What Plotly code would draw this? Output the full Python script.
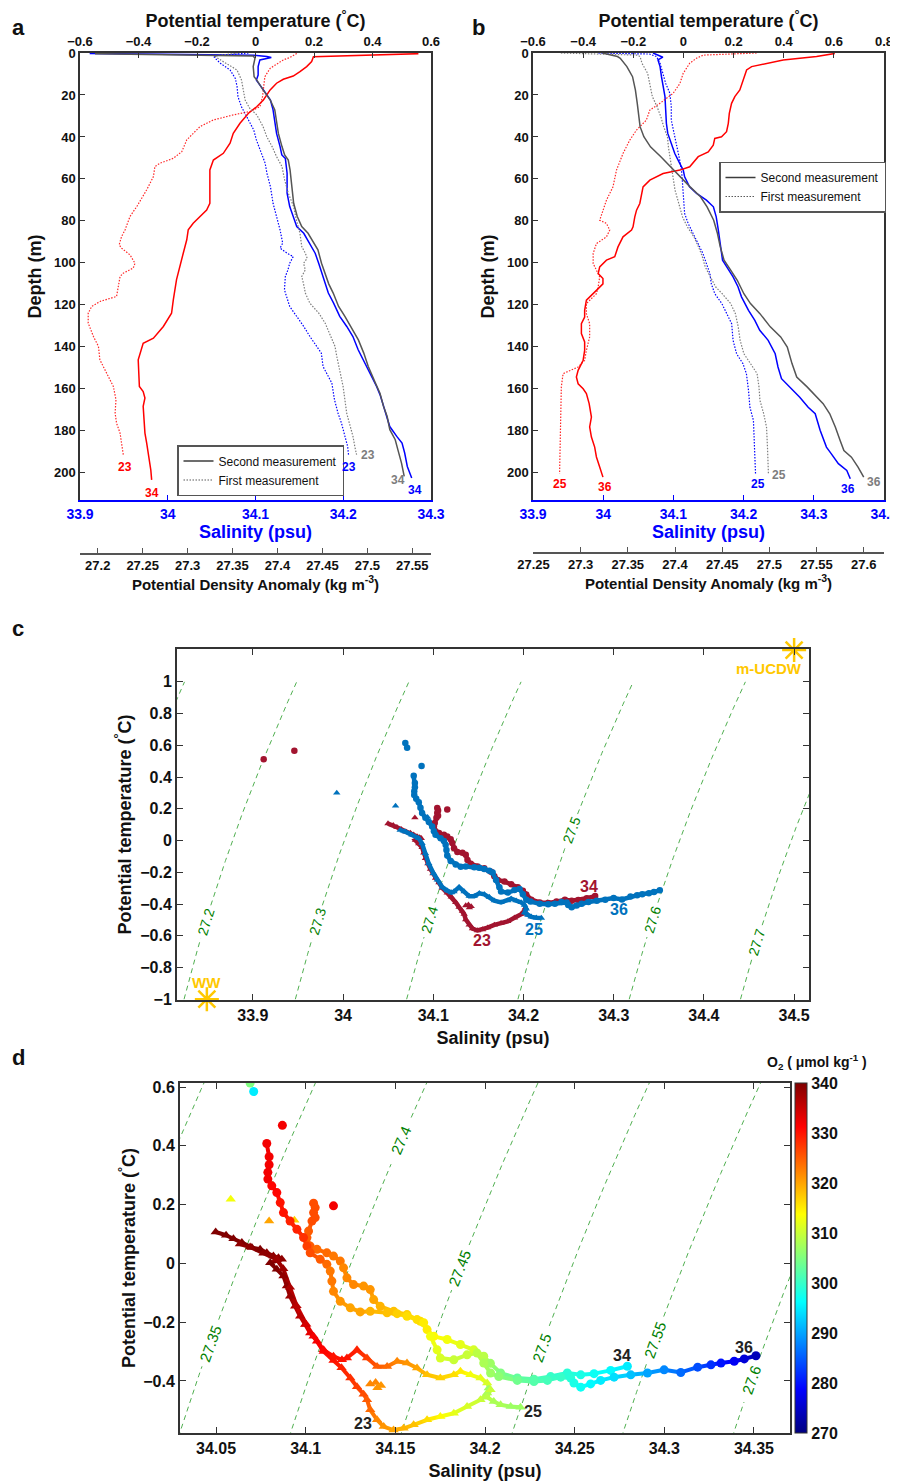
import numpy as np
import plotly.graph_objects as go
from plotly.colors import sample_colorscale

W, H = 898, 1481
OFF = 8  # the page body margin shifts the figure by this many pixels
FONT = "Liberation Sans, Arial, Helvetica, sans-serif"

# ===================== DATA =====================
# ---- Panel a: stations 23 (first) and 34 (second) ----
a_temp23_z = [0.2, 2.1, 3.3, 7.3, 11.3, 16, 20.8, 25.6, 27.9, 29.5, 31.9, 35.1, 38.3, 41.4, 47, 50.2, 52.5, 54.1, 58.9, 65.2,
              73.2, 77.9, 84.3, 87.5, 91.4, 93, 96.2, 100.2, 102.5, 104.9, 106.5, 112, 116, 118.4, 120.8, 124, 128.7, 135.1,
              139.8, 146.2, 152.5, 158.9, 165.2, 171.6, 176.4, 181.1, 185.9, 191.4]
a_temp23 = [0.141, 0.118, 0.095, 0.05, 0.032, 0.027, 0.024, 0.015, -0.019, -0.076, -0.144, -0.19, -0.213, -0.235, -0.252,
            -0.281, -0.326, -0.344, -0.349, -0.372, -0.406, -0.429, -0.446, -0.458, -0.466, -0.458, -0.429, -0.412, -0.418,
            -0.452, -0.463, -0.469, -0.475, -0.532, -0.56, -0.572, -0.572, -0.554, -0.537, -0.532, -0.509, -0.486, -0.477,
            -0.48, -0.475, -0.463, -0.458, -0.452]
a_temp34_z = [0.3, 1.8, 4.1, 6.5, 8.9, 11, 12.5, 14.4, 17.6, 22.4, 25.6, 28.7, 33.5, 38.3, 43, 47.8, 51, 55.7, 60.5, 66.8,
              71.6, 74.8, 77.9, 81.1, 84.3, 89, 95.4, 101.7, 108, 117.6, 124, 130.3, 135.9, 138.3, 143, 146.2, 158.9, 161.3,
              164.4, 168.4, 174.8, 181.1, 185.9, 192.2, 198.6, 203.4]
a_temp34 = [0.557, 0.198, 0.192, 0.175, 0.152, 0.129, 0.095, 0.072, 0.05, 0.027, 0.004, -0.024, -0.053, -0.076, -0.087,
            -0.11, -0.144, -0.156, -0.156, -0.156, -0.156, -0.167, -0.19, -0.213, -0.23, -0.235, -0.247, -0.258, -0.27,
            -0.281, -0.287, -0.315, -0.349, -0.384, -0.395, -0.401, -0.397, -0.384, -0.378, -0.384, -0.381, -0.378,
            -0.372, -0.364, -0.358, -0.355]
a_sal23_z = [0, 1.4, 2.5, 4.9, 8.1, 12.1, 16, 20.8, 25.6, 28.7, 31.9, 36.7, 41.4, 46.2, 52.5, 57.3, 63.7, 71.6, 77.9, 84.3,
             90.6, 93, 95.4, 97, 100.2, 103.3, 106.5, 112.9, 120.8, 125.5, 130.3, 135.1, 139.8, 143, 149.4, 154.1, 157.3,
             165.2, 171.6, 176.4, 182.7, 187.5, 191.4]
a_sal23 = [34.092, 34.052, 34.054, 34.06, 34.071, 34.077, 34.079, 34.08, 34.084, 34.088, 34.092, 34.098, 34.101, 34.105,
           34.111, 34.113, 34.117, 34.12, 34.124, 34.128, 34.131, 34.128, 34.136, 34.143, 34.139, 34.137, 34.134, 34.133,
           34.139, 34.147, 34.155, 34.162, 34.17, 34.175, 34.177, 34.183, 34.187, 34.19, 34.194, 34.198, 34.202, 34.205,
           34.206]
a_sal34_z = [0.2, 1.1, 1.7, 2.1, 3.3, 6.5, 10.5, 12.9, 17.6, 22.4, 27.1, 31.9, 38.3, 44.6, 48.6, 50.2, 57.3, 66.8, 73.2,
             77.9, 82.7, 85.9, 89.8, 92.2, 95.4, 100.2, 104.1, 109.7, 114.4, 119.2, 125.5, 130.3, 135.1, 141.4, 146.2,
             152.5, 158.9, 162.9, 171.6, 178, 182.7, 185.9, 190.6, 197, 202.5]
a_sal34 = [33.911, 34.098, 34.113, 34.118, 34.105, 34.103, 34.103, 34.101, 34.109, 34.117, 34.12, 34.122, 34.124, 34.128,
           34.13, 34.134, 34.136, 34.136, 34.139, 34.143, 34.147, 34.155, 34.16, 34.164, 34.168, 34.172, 34.175, 34.179,
           34.183, 34.189, 34.196, 34.204, 34.211, 34.217, 34.223, 34.23, 34.238, 34.242, 34.248, 34.253, 34.261, 34.267,
           34.27, 34.273, 34.278]
a_sig23_z = [0, 1.4, 2.1, 4.9, 8.1, 12.9, 17.6, 22.4, 26.3, 29.5, 35.1, 39.8, 44.6, 49.4, 54.1, 60.5, 66.8, 73.2, 79.5,
             85.9, 92.2, 95.4, 97.8, 100.2, 103.3, 106.5, 110, 114.4, 119.2, 124, 128.7, 133.5, 139.8, 144.6, 152.5, 158.9,
             165.2, 171.6, 178, 182.7, 187.5, 191.4]
a_sig23 = [27.356, 27.33, 27.332, 27.343, 27.355, 27.36, 27.362, 27.364, 27.369, 27.377, 27.384, 27.388, 27.394, 27.399,
           27.405, 27.408, 27.412, 27.418, 27.421, 27.425, 27.427, 27.431, 27.433, 27.429, 27.431, 27.427, 27.429, 27.431,
           27.436, 27.446, 27.453, 27.458, 27.464, 27.466, 27.47, 27.473, 27.475, 27.477, 27.481, 27.484, 27.486, 27.488]
a_sig34_z = [0.3, 1.4, 2.5, 6.5, 11.3, 12.9, 17.6, 22.4, 27.1, 31.9, 38.3, 44.6, 48.6, 51, 55.7, 63.7, 71.6, 77.9, 82.7,
             85.9, 90.6, 93.8, 100.2, 104.9, 110, 114.4, 120.8, 125.5, 131.9, 136.7, 143, 149.4, 157.3, 162.1, 168.4,
             173.2, 179.5, 184.3, 189.1, 195.4, 201.7]
a_sig34 = [27.197, 27.373, 27.375, 27.373, 27.374, 27.377, 27.384, 27.392, 27.397, 27.399, 27.401, 27.405, 27.408, 27.412,
           27.414, 27.416, 27.418, 27.422, 27.427, 27.434, 27.44, 27.445, 27.449, 27.453, 27.457, 27.462, 27.468, 27.475,
           27.484, 27.49, 27.496, 27.501, 27.509, 27.514, 27.518, 27.522, 27.525, 27.531, 27.534, 27.538, 27.541]

# ---- Panel b: stations 25 (first) and 36 (second) ----
b_temp25_z = [0, 1, 2.5, 4.9, 7.3, 9.7, 14.5, 19.2, 24, 27.2, 32, 36.7, 41.5, 47.9, 55.8, 63.8, 70.1, 76.5, 79.7, 81.2,
              84.4, 87.6, 90.8, 95.5, 100.3, 103.5, 106.7, 111.4, 114.7, 119.4, 124.2, 129, 135.3, 141.7, 146.4, 149.6,
              151.2, 152.8, 159.1, 171.9, 184.6, 200.5]
b_temp25 = [0.292, 0.079, 0.052, 0.025, 0.012, -0.001, -0.014, -0.041, -0.094, -0.134, -0.148, -0.187, -0.214, -0.241,
            -0.267, -0.281, -0.307, -0.327, -0.334, -0.307, -0.294, -0.307, -0.347, -0.36, -0.36, -0.347, -0.334, -0.34,
            -0.347, -0.387, -0.387, -0.374, -0.374, -0.387, -0.394, -0.42, -0.454, -0.48, -0.487, -0.49, -0.491, -0.494]
b_temp36_z = [0.2, 1.7, 3.3, 4.9, 6.5, 8.1, 12.9, 17.6, 20.8, 24, 28.8, 33.5, 37.5, 39.9, 40.7, 43.9, 47.1, 49.4, 54.2,
              55.8, 57.4, 60.6, 63.8, 68.5, 71.7, 74.9, 78.1, 82.8, 84.4, 87.6, 92.4, 97.1, 98.7, 101.9, 105.1, 107.5, 110,
              113.1, 117.8, 122.6, 125.8, 129, 133.7, 137.7, 141.7, 146.4, 151.2, 154.4, 157.6, 160, 162.3, 167.1, 173.5,
              178.2, 183, 187.8, 192.5, 197.3, 202.1]
b_temp36 = [0.604, 0.531, 0.398, 0.332, 0.272, 0.252, 0.238, 0.225, 0.205, 0.192, 0.183, 0.179, 0.172, 0.152, 0.125,
            0.119, 0.099, 0.059, 0.025, -0.014, -0.081, -0.134, -0.161, -0.168, -0.174, -0.187, -0.194, -0.201, -0.207,
            -0.241, -0.261, -0.274, -0.307, -0.334, -0.34, -0.321, -0.321, -0.347, -0.387, -0.394, -0.394, -0.407, -0.407,
            -0.394, -0.394, -0.4, -0.42, -0.427, -0.42, -0.4, -0.387, -0.376, -0.367, -0.374, -0.367, -0.354, -0.347,
            -0.334, -0.321]
b_sal25_z = [0, 0.5, 1.7, 4.9, 9.7, 14.5, 19.2, 25.6, 32, 36.7, 41.5, 46.3, 51, 57.4, 66.9, 76.5, 81.2, 86, 90.8, 95.5,
             100.3, 105.1, 110, 114.7, 119.4, 124.2, 129, 136.9, 143.3, 148, 152.8, 160.8, 168.8, 175.1, 181.5, 191, 200.5]
b_sal25 = [33.993, 34.066, 34.076, 34.081, 34.085, 34.089, 34.095, 34.097, 34.097, 34.1, 34.104, 34.107, 34.109, 34.112,
           34.114, 34.116, 34.121, 34.128, 34.135, 34.142, 34.147, 34.152, 34.154, 34.159, 34.169, 34.176, 34.183, 34.185,
           34.19, 34.199, 34.204, 34.207, 34.209, 34.214, 34.215, 34.216, 34.217]
b_sal36_z = [0, 2, 3.3, 6.5, 11.3, 16.1, 20.8, 27.2, 33.5, 38.3, 43.1, 47.9, 52.6, 55.8, 59, 63.8, 66.9, 70.1, 73.3, 78.1,
             84.4, 90.8, 98.7, 101.9, 106.7, 111.4, 116.2, 122.6, 127.4, 132.1, 136.9, 143.3, 149.6, 155.2, 159.1, 164,
             168.8, 171.9, 179.8, 187.8, 191, 195.7, 198.9, 202.9]
b_sal36 = [34.071, 34.085, 34.078, 34.081, 34.083, 34.085, 34.088, 34.089, 34.09, 34.092, 34.097, 34.102, 34.109, 34.114,
           34.116, 34.123, 34.133, 34.147, 34.157, 34.161, 34.164, 34.167, 34.17, 34.176, 34.185, 34.192, 34.197, 34.207,
           34.216, 34.223, 34.235, 34.245, 34.249, 34.254, 34.266, 34.28, 34.292, 34.302, 34.309, 34.318, 34.325, 34.335,
           34.347, 34.352]
b_sig25_z = [0, 1, 1.7, 4.9, 9.7, 16.1, 20.8, 25.6, 30.4, 35.1, 39.9, 44.7, 51, 57.4, 65.3, 71.7, 78.1, 82.8, 87.6, 92.4,
             97.1, 101.9, 106.7, 111.4, 114.7, 119.4, 124.2, 130.5, 136.9, 143.3, 148, 152.8, 159.1, 165.5, 171.9, 178.3,
             187.8, 200.5]
b_sig25 = [27.279, 27.36, 27.363, 27.365, 27.371, 27.374, 27.376, 27.381, 27.385, 27.388, 27.392, 27.393, 27.395, 27.397,
           27.4, 27.404, 27.408, 27.413, 27.42, 27.425, 27.429, 27.432, 27.438, 27.443, 27.45, 27.459, 27.464, 27.467,
           27.469, 27.473, 27.48, 27.487, 27.489, 27.49, 27.494, 27.497, 27.498, 27.499]
b_sig36_z = [0, 1.7, 2.5, 6.5, 11.3, 17.6, 24, 30.4, 35.1, 39.9, 44.7, 49.4, 54.2, 59, 63.8, 68.5, 73.3, 79.7, 86, 92.4,
             98.7, 103.5, 108.3, 114.7, 119.4, 124.2, 130.5, 135.3, 140.1, 148, 154.4, 159.1, 164, 167.1, 171.9, 178.3,
             184.6, 189.4, 192.6, 197.3, 202.1]
b_sig36 = [27.323, 27.339, 27.342, 27.349, 27.355, 27.358, 27.36, 27.362, 27.363, 27.367, 27.374, 27.385, 27.395, 27.406,
           27.416, 27.427, 27.434, 27.441, 27.445, 27.448, 27.452, 27.459, 27.466, 27.473, 27.48, 27.49, 27.501, 27.512,
           27.519, 27.524, 27.529, 27.54, 27.55, 27.557, 27.564, 27.57, 27.575, 27.579, 27.587, 27.594, 27.6]

# ---- Panels c/d: theta-S paths (salinity, potential temperature, oxygen) ----
ts23_S = [34.0498, 34.0556, 34.0597, 34.0644, 34.0700, 34.0746, 34.0783, 34.0820, 34.0848, 34.0867, 34.0802, 34.0839,
          34.0876, 34.0895, 34.0913, 34.0941, 34.0969, 34.0997, 34.1025, 34.1063, 34.1100, 34.1155, 34.1200, 34.1249,
          34.1286, 34.1323, 34.1342, 34.1360, 34.1398, 34.1435, 34.1490, 34.1546, 34.1602, 34.1677, 34.1751, 34.1826,
          34.1900, 34.1975, 34.2012, 34.2021]
ts23_T = [0.107, 0.096, 0.084, 0.071, 0.054, 0.048, 0.036, 0.025, 0.019, 0.014, 0.002, -0.020, -0.043, -0.077, -0.112,
          -0.146, -0.180, -0.208, -0.237, -0.265, -0.300, -0.330, -0.355, -0.390, -0.420, -0.445, -0.464, -0.498, -0.532,
          -0.555, -0.567, -0.561, -0.549, -0.532, -0.521, -0.510, -0.487, -0.464, -0.441, -0.424]
ts23_O2 = [340, 340, 340, 340, 340, 340, 339, 339, 339, 339, 340, 340, 339, 339, 338, 337, 336, 335, 333, 332, 331, 330,
           329, 328, 327, 326, 325, 324, 322, 321, 320, 319, 318, 316, 314, 312, 311, 310, 308, 307]
ts23_iso_S = [34.0796, 34.1360, 34.1390, 34.1420, 34.1400]
ts23_iso_T = [0.144, -0.410, -0.405, -0.415, -0.423]
ts23_iso_O2 = [320, 322, 322, 321, 321]

ts25_S = [34.0633, 34.0690, 34.0764, 34.0838, 34.0875, 34.0912, 34.0949, 34.1003, 34.1044, 34.1100, 34.1155, 34.1202,
          34.1230, 34.1286, 34.1342, 34.1398, 34.1454, 34.1510, 34.1565, 34.1621, 34.1677, 34.1751, 34.1826, 34.1863,
          34.1919, 34.1975, 34.2012, 34.2031, 34.2012, 34.2049, 34.2087, 34.2143, 34.2198]
ts25_T = [0.066, 0.056, 0.035, 0.014, -0.018, -0.081, -0.144, -0.207, -0.248, -0.294, -0.316, -0.328, -0.322, -0.294,
          -0.322, -0.351, -0.351, -0.333, -0.339, -0.356, -0.379, -0.390, -0.379, -0.367, -0.379, -0.390, -0.407, -0.430,
          -0.455, -0.470, -0.481, -0.487, -0.489]
ts25_O2 = [339, 339, 339, 338, 338, 337, 336, 334, 332, 331, 330, 330, 330, 329, 327, 325, 324, 322, 321, 320, 318, 317,
           316, 315, 313, 312, 311, 310, 309, 308, 308, 307, 307]
ts25_iso_S = [33.993, 34.0582, 34.0937]
ts25_iso_T = [0.300, 0.218, 0.147]
ts25_iso_O2 = [310, 313, 317]

ts34_S = [34.1044, 34.1053, 34.1044, 34.1053, 34.1035, 34.1016, 34.1007, 34.1025, 34.1063, 34.1118, 34.1155, 34.1193,
          34.1211, 34.1230, 34.1267, 34.1323, 34.1360, 34.1379, 34.1416, 34.1491, 34.1565, 34.1640, 34.1677, 34.1714,
          34.1789, 34.1863, 34.1937, 34.1993, 34.2030, 34.2087, 34.2180, 34.2273, 34.2366, 34.2459, 34.2534, 34.2608,
          34.2701, 34.2794]
ts34_T = [0.205, 0.190, 0.173, 0.156, 0.144, 0.110, 0.088, 0.059, 0.048, 0.036, 0.025, 0.008, -0.015, -0.049, -0.072,
          -0.077, -0.089, -0.123, -0.146, -0.163, -0.174, -0.197, -0.225, -0.248, -0.259, -0.276, -0.294, -0.316, -0.340,
          -0.373, -0.390, -0.394, -0.385, -0.373, -0.379, -0.375, -0.364, -0.350]
ts34_O2 = [326, 326, 326, 326, 326, 325, 325, 325, 324, 324, 323, 323, 322, 322, 322, 321, 321, 320, 319, 318, 317, 316,
           315, 314, 313, 312, 311, 309, 307, 305, 303, 302, 300, 299, 298, 297, 296, 295]
ts34_iso_S = [33.912, 33.946, 34.1155]
ts34_iso_T = [0.512, 0.565, 0.196]
ts34_iso_O2 = [300, 300, 332]

ts36_S = [34.0783, 34.0796, 34.0796, 34.0789, 34.0789, 34.0811, 34.0839, 34.0858, 34.0876, 34.0913, 34.0951, 34.0988,
          34.1007, 34.1025, 34.1081, 34.1118, 34.1137, 34.1146, 34.1155, 34.1193, 34.1249, 34.1304, 34.1360, 34.1454,
          34.1510, 34.1565, 34.1621, 34.1658, 34.1696, 34.1733, 34.1751, 34.1826, 34.1900, 34.1956, 34.1993, 34.2031,
          34.2077, 34.2180, 34.2273, 34.2348, 34.2422, 34.2478, 34.2496, 34.2534, 34.2589, 34.2645, 34.2720, 34.2813,
          34.2906, 34.2999, 34.3092, 34.3186, 34.3260, 34.3316, 34.3390, 34.3446, 34.3511]
ts36_T = [0.408, 0.363, 0.336, 0.310, 0.287, 0.264, 0.241, 0.207, 0.173, 0.144, 0.116, 0.088, 0.059, 0.036, 0.014,
          -0.003, -0.026, -0.060, -0.095, -0.129, -0.151, -0.165, -0.163, -0.168, -0.171, -0.180, -0.191, -0.202, -0.248,
          -0.294, -0.322, -0.328, -0.311, -0.305, -0.339, -0.373, -0.385, -0.398, -0.402, -0.398, -0.387, -0.390, -0.407,
          -0.421, -0.410, -0.398, -0.387, -0.379, -0.373, -0.362, -0.371, -0.353, -0.345, -0.339, -0.333, -0.325, -0.314]
ts36_O2 = [332, 332, 332, 332, 332, 331, 331, 330, 330, 329, 329, 328, 327, 326, 325, 324, 323, 323, 322, 321, 320, 320,
           319, 318, 317, 316, 316, 315, 313, 312, 311, 310, 310, 309, 308, 307, 306, 304, 302, 301, 300, 299, 298, 297,
           296, 295, 294, 292, 290, 288, 286, 284, 282, 280, 278, 276, 274]
ts36_iso_S = [34.0690, 34.0710, 34.0870]
ts36_iso_T = [0.614, 0.585, 0.470]
ts36_iso_O2 = [305, 295, 332]

# water masses
wm_names = ["WW", "m-UCDW"]
wm_S = [33.849, 34.5]
wm_T = [-1.0, 1.2]

# isopycnal levels and label temperatures
c_levels = [27.1, 27.2, 27.3, 27.4, 27.5, 27.6, 27.7]
c_label_T = {27.2: -0.512, 27.3: -0.512, 27.4: -0.50, 27.5: 0.066, 27.6: -0.50, 27.7: -0.64}
d_levels = [27.3, 27.35, 27.4, 27.45, 27.5, 27.55, 27.6, 27.65]
d_label_T = {27.35: -0.271, 27.4: 0.417, 27.45: -0.015, 27.5: -0.288, 27.55: -0.259, 27.6: -0.396}

O2_range = [270, 340]

# ===================== HELPERS =====================
def fx(px):
    return (px - OFF) / W


def fy(py):
    return 1 - (py - OFF) / H


def pairs(z, v):
    n = min(len(z), len(v))
    return list(z[:n]), list(v[:n])


def sigma0(S, T):
    S = np.asarray(S, float)
    T = np.asarray(T, float)
    rw = (999.842594 + 6.793952e-2 * T - 9.095290e-3 * T ** 2 + 1.001685e-4 * T ** 3
          - 1.120083e-6 * T ** 4 + 6.536332e-9 * T ** 5)
    A = 8.24493e-1 - 4.0899e-3 * T + 7.6438e-5 * T ** 2 - 8.2467e-7 * T ** 3 + 5.3875e-9 * T ** 4
    B = -5.72466e-3 + 1.0227e-4 * T - 1.6546e-6 * T ** 2
    return rw + A * S + B * S ** 1.5 + 4.8314e-4 * S ** 2 - 1000.0


def iso_sal(level, T):
    T = np.asarray(T, float)
    S = np.full_like(T, 34.0)
    for _ in range(10):
        f = sigma0(S, T) - level
        d = (sigma0(S + 1e-4, T) - sigma0(S - 1e-4, T)) / 2e-4
        S = S - f / d
    return S


JET = [[0, 'rgb(0,0,128)'], [0.125, 'rgb(0,0,255)'], [0.375, 'rgb(0,255,255)'],
       [0.625, 'rgb(255,255,0)'], [0.875, 'rgb(255,0,0)'], [1, 'rgb(128,0,0)']]


def o2_color(v):
    t = (v - O2_range[0]) / (O2_range[1] - O2_range[0])
    return sample_colorscale(JET, [min(max(t, 0), 1)])[0]


RED = 'rgb(255,0,0)'
BLUE = 'rgb(0,0,255)'
GRAY_S = 'rgb(85,85,85)'
GRAY_D = 'rgb(125,125,125)'
C_RED = '#A2142F'
C_BLUE = '#0072BD'
GOLD = 'rgb(255,200,0)'
ISO_LINE = 'rgb(80,175,80)'
ISO_TXT = 'rgb(0,128,0)'
DOT = '1.5px,1.5px'

fig = go.Figure()
annotations = []

# ===================== PANELS a & b =====================
def add_profile(z, v, xa, ya, color, dash, width):
    zz, vv = pairs(z, v)
    fig.add_trace(go.Scatter(x=vv, y=zz, xaxis=xa, yaxis=ya, mode='lines',
                             line=dict(color=color, dash=dash, width=width),
                             showlegend=False, hoverinfo='skip'))

# panel a: x = salinity, x2 = temperature, x3 = density; y = depth
add_profile(a_sal23_z, a_sal23, 'x', 'y', BLUE, DOT, 1.2)
add_profile(a_sig23_z, a_sig23, 'x3', 'y', GRAY_D, DOT, 1.2)
add_profile(a_temp23_z, a_temp23, 'x2', 'y', 'rgba(255,0,0,0.85)', DOT, 1.2)
add_profile(a_sal34_z, a_sal34, 'x', 'y', BLUE, 'solid', 1.5)
add_profile(a_sig34_z, a_sig34, 'x3', 'y', GRAY_S, 'solid', 1.5)
add_profile(a_temp34_z, a_temp34, 'x2', 'y', RED, 'solid', 1.5)
# panel b: x4 = salinity, x5 = temperature, x6 = density; y2 = depth
add_profile(b_sal25_z, b_sal25, 'x4', 'y2', BLUE, DOT, 1.2)
add_profile(b_sig25_z, b_sig25, 'x6', 'y2', GRAY_D, DOT, 1.2)
add_profile(b_temp25_z, b_temp25, 'x5', 'y2', 'rgba(255,0,0,0.85)', DOT, 1.2)
add_profile(b_sal36_z, b_sal36, 'x4', 'y2', BLUE, 'solid', 1.5)
add_profile(b_sig36_z, b_sig36, 'x6', 'y2', GRAY_S, 'solid', 1.5)
add_profile(b_temp36_z, b_temp36, 'x5', 'y2', RED, 'solid', 1.5)

# legends (line-style keys)
for lg, xa, ya in [('legend', 'x', 'y'), ('legend2', 'x4', 'y2')]:
    fig.add_trace(go.Scatter(x=[None], y=[None], xaxis=xa, yaxis=ya, mode='lines', name='Second measurement',
                             line=dict(color='rgb(60,60,60)', width=1.5), legend=lg, showlegend=True))
    fig.add_trace(go.Scatter(x=[None], y=[None], xaxis=xa, yaxis=ya, mode='lines', name='First measurement',
                             line=dict(color='rgb(90,90,90)', width=1.2, dash=DOT), legend=lg, showlegend=True))

# end-of-profile station labels
def end_label(text, z, v, xa, ya, color, dx=0, dy=14):
    annotations.append(dict(text=text, x=v[-1], y=z[-1], xref=xa, yref=ya, showarrow=False,
                            xshift=dx, yshift=-dy, font=dict(size=12, color=color, weight='bold')))

end_label('23', a_temp23_z, a_temp23, 'x2', 'y', RED, 2, 12)
end_label('34', a_temp34_z, a_temp34, 'x2', 'y', RED, 0, 13)
end_label('23', a_sal23_z, a_sal23, 'x', 'y', BLUE, 0, 12)
end_label('34', a_sal34_z, a_sal34, 'x', 'y', BLUE, 3, 12)
end_label('23', a_sig23_z, a_sig23, 'x3', 'y', GRAY_D, 11, 0)
end_label('34', a_sig34_z, a_sig34, 'x3', 'y', GRAY_D, -6, 4)
end_label('25', b_temp25_z, b_temp25, 'x5', 'y2', RED, 0, 10)
end_label('36', b_temp36_z, b_temp36, 'x5', 'y2', RED, 2, 10)
end_label('25', b_sal25_z, b_sal25, 'x4', 'y2', BLUE, 2, 10)
end_label('36', b_sal36_z, b_sal36, 'x4', 'y2', BLUE, -2, 10)
end_label('25', b_sig25_z, b_sig25, 'x6', 'y2', GRAY_D, 11, 1)
end_label('36', b_sig36_z, b_sig36, 'x6', 'y2', GRAY_D, 10, 5)

# ===================== ISOPYCNALS (c & d) =====================
c_xr = [33.8159, 34.5165]
c_yr = [-1.005, 1.207]
d_xr = [34.0299, 34.3701]
d_yr = [-0.577, 0.614]
c_box = (177, 649, 809, 1000)
d_box = (180, 1083, 790, 1433)


def add_isopycnals(levels, label_T, Tmin, Tmax, gap, xa, ya, xr, yr, box, fsize):
    pxS = (box[2] - box[0]) / (xr[1] - xr[0])
    pxT = (box[3] - box[1]) / (yr[1] - yr[0])
    Tg = np.linspace(Tmin, Tmax, 241)
    for lev in levels:
        Sg = iso_sal(lev, Tg)
        xs, ys = [], []
        T0 = label_T.get(lev)
        for s, t in zip(Sg, Tg):
            if T0 is not None and abs(t - T0) < gap:
                if xs and xs[-1] is not None:
                    xs.append(None)
                    ys.append(None)
                continue
            xs.append(float(s))
            ys.append(float(t))
        fig.add_trace(go.Scatter(x=xs, y=ys, xaxis=xa, yaxis=ya, mode='lines',
                                 line=dict(color=ISO_LINE, width=1, dash='5px,4px'),
                                 showlegend=False, hoverinfo='skip'))
        if T0 is not None:
            S0 = float(iso_sal(lev, [T0])[0])
            dSdT = float((iso_sal(lev, [T0 + 0.01])[0] - iso_sal(lev, [T0 - 0.01])[0]) / 0.02)
            ang = np.degrees(np.arctan2(pxT, dSdT * pxS))
            annotations.append(dict(text=f"{lev:g}", x=S0, y=T0, xref=xa, yref=ya, showarrow=False,
                                    textangle=-ang, font=dict(size=fsize, color=ISO_TXT)))


add_isopycnals(c_levels, c_label_T, -1.0, 1.0, 0.1, 'x7', 'y3', c_xr, c_yr, c_box, 14)
add_isopycnals(d_levels, d_label_T, -0.62, 0.65, 0.075, 'x8', 'y4', d_xr, d_yr, d_box, 15)

# ===================== PANEL c =====================
c_series = [
    (ts23_S, ts23_T, ts23_iso_S, ts23_iso_T, C_RED, 'triangle-up'),
    (ts34_S, ts34_T, ts34_iso_S, ts34_iso_T, C_RED, 'circle'),
    (ts25_S, ts25_T, ts25_iso_S, ts25_iso_T, C_BLUE, 'triangle-up'),
    (ts36_S, ts36_T, ts36_iso_S, ts36_iso_T, C_BLUE, 'circle'),
]
for S, T, iS, iT, col, sym in c_series:
    fig.add_trace(go.Scatter(x=S, y=T, xaxis='x7', yaxis='y3', mode='lines+markers',
                             line=dict(color=col, width=4.5),
                             marker=dict(color=col, size=6.5, symbol=sym),
                             showlegend=False, hoverinfo='skip'))
    fig.add_trace(go.Scatter(x=iS, y=iT, xaxis='x7', yaxis='y3', mode='markers',
                             marker=dict(color=col, size=6.5, symbol=sym),
                             showlegend=False, hoverinfo='skip'))

fig.add_trace(go.Scatter(x=wm_S, y=wm_T, xaxis='x7', yaxis='y3', mode='markers', cliponaxis=False,
                         marker=dict(symbol='asterisk-open', size=20, color=GOLD, line=dict(color=GOLD, width=2.5)),
                         showlegend=False, hoverinfo='skip'))

for txt, s, t, col in [('34', 34.273, -0.291, C_RED), ('36', 34.306, -0.432, C_BLUE),
                       ('23', 34.154, -0.628, C_RED), ('25', 34.212, -0.561, C_BLUE)]:
    annotations.append(dict(text=txt, x=s, y=t, xref='x7', yref='y3', showarrow=False,
                            font=dict(size=16, color=col, weight='bold')))
annotations.append(dict(text=wm_names[0], x=wm_S[0], y=wm_T[0], xref='x7', yref='y3', showarrow=False,
                        yshift=17, font=dict(size=15, color=GOLD, weight='bold')))
annotations.append(dict(text=wm_names[1], x=wm_S[1], y=wm_T[1], xref='x7', yref='y3', showarrow=False,
                        yshift=-18, xshift=-25, font=dict(size=15, color=GOLD, weight='bold')))

# ===================== PANEL d =====================
d_series = [
    (ts23_S, ts23_T, ts23_O2, ts23_iso_S, ts23_iso_T, ts23_iso_O2, 'triangle-up'),
    (ts25_S, ts25_T, ts25_O2, ts25_iso_S, ts25_iso_T, ts25_iso_O2, 'triangle-up'),
    (ts34_S, ts34_T, ts34_O2, ts34_iso_S, ts34_iso_T, ts34_iso_O2, 'circle'),
    (ts36_S, ts36_T, ts36_O2, ts36_iso_S, ts36_iso_T, ts36_iso_O2, 'circle'),
]
for S, T, O, iS, iT, iO, sym in d_series:
    for i in range(len(S) - 1):
        fig.add_trace(go.Scatter(x=[S[i], S[i + 1]], y=[T[i], T[i + 1]], xaxis='x8', yaxis='y4', mode='lines',
                                 line=dict(color=o2_color((O[i] + O[i + 1]) / 2), width=4),
                                 showlegend=False, hoverinfo='skip'))
for S, T, O, iS, iT, iO, sym in d_series:
    fig.add_trace(go.Scatter(x=list(S) + list(iS), y=list(T) + list(iT), xaxis='x8', yaxis='y4', mode='markers',
                             marker=dict(color=list(O) + list(iO), coloraxis='coloraxis', size=9, symbol=sym,
                                         line=dict(width=0)),
                             showlegend=False, hoverinfo='skip'))

for txt, s, t in [('23', 34.132, -0.543), ('25', 34.2265, -0.504), ('34', 34.2763, -0.314), ('36', 34.3447, -0.285)]:
    annotations.append(dict(text=txt, x=s, y=t, xref='x8', yref='y4', showarrow=False,
                            font=dict(size=16, color='#222', weight='bold')))

# colour bar title
annotations.append(dict(text='O<sub>2</sub> ( μmol kg<sup>-1</sup> )', x=fx(817), y=fy(1062), xref='paper',
                        yref='paper', xanchor='center', yanchor='middle', showarrow=False,
                        font=dict(size=14, color='#111', weight='bold')))

# panel letters
for letter, px, py in [('a', 18, 28), ('b', 478, 28), ('c', 18, 628), ('d', 18, 1057)]:
    annotations.append(dict(text=letter, x=fx(px), y=fy(py), xref='paper', yref='paper', showarrow=False,
                            xanchor='center', yanchor='middle',
                            font=dict(size=22, color='#111', weight='bold')))

# ===================== LAYOUT =====================
AX = '#333'
tick13 = dict(size=13, color='#111', weight='bold')
tick16 = dict(size=16, color='#111', weight='bold')
title18 = dict(size=18, color='#111', weight='bold')
DEG_T = 'Potential temperature (<sup>°</sup>C)'
DENS_T = 'Potential Density Anomaly (kg m<sup>-3</sup>)'

def base_ax(**kw):
    d = dict(showgrid=False, zeroline=False, showline=True, linecolor=AX, linewidth=1.5, automargin=False,
             ticks='inside', ticklen=5, tickwidth=1.2, tickcolor=AX)
    d.update(kw)
    return d

ya_dom = [fy(500), fy(53)]
layout = dict(
    template='none',
    width=W, height=H, autosize=False, margin=dict(l=0, r=0, t=0, b=0, pad=0, autoexpand=False),
    paper_bgcolor='white', plot_bgcolor='white', font=dict(family=FONT, color='#111'),
    # panel a
    xaxis=base_ax(domain=[fx(80), fx(431)], range=[33.9, 34.3], dtick=0.1, anchor='y', side='bottom',
                  linecolor=BLUE, tickcolor=BLUE, tickfont=dict(size=14, color=BLUE, weight='bold'),
                  title=dict(text='Salinity (psu)', font=dict(size=18, color=BLUE, weight='bold'), standoff=4)),
    xaxis2=base_ax(overlaying='x', side='top', anchor='y', range=[-0.6, 0.6], dtick=0.2, tickfont=tick13,
                   title=dict(text=DEG_T, font=title18, standoff=6)),
    xaxis3=base_ax(overlaying='x', anchor='free', position=fy(554), side='bottom', range=[27.1803, 27.5708],
                   dtick=0.05, linecolor='#555', tickcolor='#555', tickfont=tick13,
                   title=dict(text=DENS_T, font=dict(size=15, color='#111', weight='bold'), standoff=4)),
    yaxis=base_ax(domain=ya_dom, range=[213, 0], dtick=20, anchor='x', mirror=True, tickfont=tick13,
                  title=dict(text='Depth (m)', font=title18, standoff=8)),
    # panel b
    xaxis4=base_ax(domain=[fx(533), fx(884)], range=[33.9, 34.4], dtick=0.1, anchor='y2', side='bottom',
                   linecolor=BLUE, tickcolor=BLUE, tickfont=dict(size=14, color=BLUE, weight='bold'),
                   title=dict(text='Salinity (psu)', font=dict(size=18, color=BLUE, weight='bold'), standoff=4)),
    xaxis5=base_ax(overlaying='x4', side='top', anchor='y2', range=[-0.6, 0.8], dtick=0.2, tickfont=tick13,
                   title=dict(text=DEG_T, font=title18, standoff=6)),
    xaxis6=base_ax(overlaying='x4', anchor='free', position=fy(553), side='bottom', range=[27.2495, 27.6215],
                   dtick=0.05, tick0=27.25, linecolor='#555', tickcolor='#555', tickfont=tick13,
                   title=dict(text=DENS_T, font=dict(size=15, color='#111', weight='bold'), standoff=4)),
    yaxis2=base_ax(domain=ya_dom, range=[213, 0], dtick=20, anchor='x4', mirror=True, tickfont=tick13,
                   title=dict(text='Depth (m)', font=title18, standoff=8)),
    # panel c
    xaxis7=base_ax(domain=[fx(177), fx(809)], range=c_xr, dtick=0.1, tick0=34.0, anchor='y3', mirror='ticks',
                   linewidth=2, ticklen=6, tickfont=tick16,
                   title=dict(text='Salinity (psu)', font=title18, standoff=8)),
    yaxis3=base_ax(domain=[fy(1000), fy(649)], range=c_yr, anchor='x7', mirror='ticks', linewidth=2, ticklen=6,
                   tickmode='array', tickvals=[round(v, 1) for v in np.arange(-1.0, 1.0001, 0.2)],
                   tickfont=tick16, title=dict(text=DEG_T, font=title18, standoff=4)),
    # panel d
    xaxis8=base_ax(domain=[fx(180), fx(790)], range=d_xr, dtick=0.05, tick0=34.0, anchor='y4', mirror='ticks',
                   linewidth=2, ticklen=6, tickfont=tick16,
                   title=dict(text='Salinity (psu)', font=title18, standoff=8)),
    yaxis4=base_ax(domain=[fy(1433), fy(1083)], range=d_yr, dtick=0.2, tick0=0, anchor='x8', mirror='ticks',
                   linewidth=2, ticklen=6, tickfont=tick16,
                   title=dict(text=DEG_T, font=title18, standoff=3)),
    coloraxis=dict(cmin=O2_range[0], cmax=O2_range[1], colorscale=JET,
                   colorbar=dict(x=fx(795), xanchor='left', y=fy(1433), yanchor='bottom', len=350 / H,
                                 lenmode='fraction', thickness=12, xpad=0, ypad=0, outlinewidth=1,
                                 outlinecolor='#333', ticks='', tickvals=list(range(270, 341, 10)),
                                 tickfont=tick16)),
    legend=dict(x=fx(177), y=fy(496), xanchor='left', yanchor='bottom', bgcolor='white', bordercolor='#555',
                borderwidth=1.5, font=dict(size=12, color='#111'), tracegroupgap=0, itemwidth=30),
    legend2=dict(x=fx(719), y=fy(187), xanchor='left', yanchor='middle', bgcolor='white', bordercolor='#555',
                 borderwidth=1.5, font=dict(size=12, color='#111'), tracegroupgap=0, itemwidth=30),
    annotations=annotations,
    showlegend=True,
)
fig.update_layout(**layout)
fig.write_html("out.html")
